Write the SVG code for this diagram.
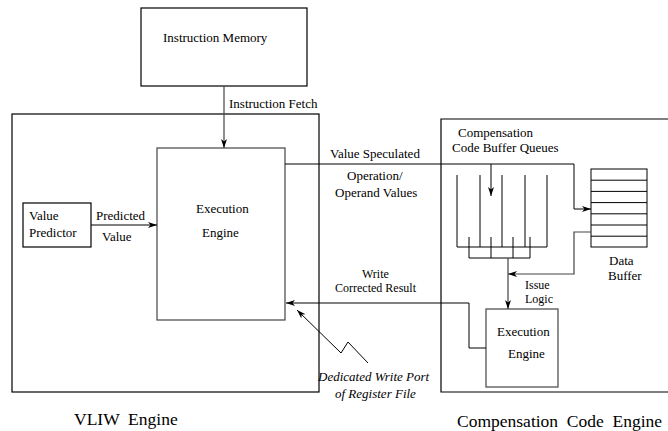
<svg xmlns="http://www.w3.org/2000/svg" width="668" height="431" viewBox="0 0 668 431" font-family="'Liberation Serif', 'Times New Roman', serif">
<defs>
<marker id="arr" markerUnits="userSpaceOnUse" markerWidth="10" markerHeight="8" refX="9" refY="4" orient="auto">
<path d="M0,1 L9,4 L0,7 L2.5,4 Z" fill="#000"/>
</marker>
<style>
.b{fill:none;stroke:#000;stroke-width:1.2}
.l{fill:none;stroke:#000;stroke-width:1}
.g{fill:none;stroke:#444;stroke-width:1.2}
text{font-family:'Liberation Serif','Times New Roman',serif;font-size:13px;fill:#000}
.it{font-style:italic}
.big{font-size:17.5px}
.sm{font-size:12px}
</style>
</defs>
<rect width="668" height="431" fill="#fff"/>

<g id="vliw-engine">
<rect class="b" x="12" y="114" width="307" height="278"/>
<text class="big" x="74" y="425" xml:space="preserve">VLIW  Engine</text>
</g>

<g id="compensation-code-engine">
<path class="b" d="M670,119 H441 V392 H670"/>
<text class="big" x="457" y="427" xml:space="preserve">Compensation  Code  Engine</text>
</g>

<g id="instruction-memory">
<rect class="b" x="141" y="8" width="166" height="78"/>
<text x="163" y="42">Instruction Memory</text>
</g>

<g id="execution-engine">
<rect class="g" x="157" y="148" width="128" height="172"/>
<text x="196" y="213">Execution</text>
<text x="202" y="237">Engine</text>
</g>

<g id="value-predictor">
<rect class="b" x="23" y="203" width="68" height="44"/>
<text x="29" y="220">Value</text>
<text x="29" y="237">Predictor</text>
</g>

<g id="buffer-queues">
<text x="458" y="137">Compensation</text>
<text x="452" y="152">Code Buffer Queues</text>
<path class="l" d="M457,175 V247 H547 V175 M480,175 V247 M502,175 V247 M525,175 V247"/>
<path class="l" d="M469,237 V258 H530 V237 M491,237 V258 M513,237 V258"/>
</g>

<g id="data-buffer">
<rect class="l" x="591" y="169" width="56" height="78"/>
<path class="l" d="M591,180.2 H647 M591,191.4 H647 M591,202.6 H647 M591,213.8 H647 M591,225 H647 M591,236.2 H647"/>
<text x="609" y="265">Data</text>
<text x="608" y="280">Buffer</text>
</g>

<g id="execution-engine-2">
<rect class="g" x="486" y="309" width="72" height="78"/>
<text x="497" y="336">Execution</text>
<text x="508" y="358">Engine</text>
</g>

<g id="connectors">
<path class="g" d="M224,86 V148" marker-end="url(#arr)"/>
<text x="229" y="108">Instruction Fetch</text>

<path class="l" d="M91,225 H157" marker-end="url(#arr)"/>
<text x="96" y="220">Predicted</text>
<text x="102" y="241">Value</text>

<path class="l" d="M285,164 H574 V209 H591" marker-end="url(#arr)"/>
<path class="l" d="M491,164 V196" marker-end="url(#arr)"/>
<text x="330" y="158">Value Speculated</text>
<text x="347" y="180">Operation/</text>
<text x="335" y="197">Operand Values</text>

<path class="g" d="M591,232 H574 V274 H508" marker-end="url(#arr)"/>
<path class="g" d="M508,258 V309" marker-end="url(#arr)"/>
<text class="sm" x="525" y="289">Issue</text>
<text class="sm" x="525" y="303">Logic</text>

<path class="l" d="M486,348 H469 V303 H286" marker-end="url(#arr)"/>
<text class="sm" x="362" y="278">Write</text>
<text class="sm" x="335" y="292">Corrected Result</text>

<path class="l" d="M368,363 L348,342 L341,353 L297,310" marker-end="url(#arr)"/>
<text class="it" x="318" y="381">Dedicated Write Port</text>
<text class="it" x="335" y="398">of Register File</text>
</g>
</svg>
